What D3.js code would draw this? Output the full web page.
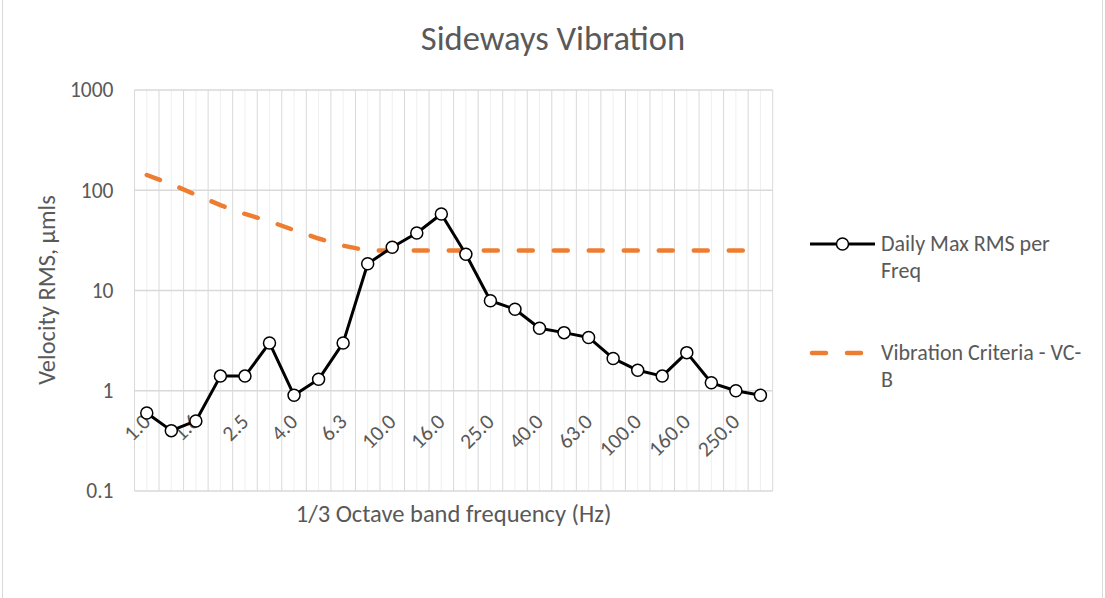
<!DOCTYPE html>
<html>
<head>
<meta charset="utf-8">
<script src="https://cdn.jsdelivr.net/npm/d3@7"></script>
<style>
  body { margin: 0; background: #fff; }
  svg text { font-family: Carlito, Calibri, Lato, sans-serif; fill: #595959; }
</style>
</head>
<body>
<script>
// 1/3 octave bands and readings
var bands = ["1.0","1.3","1.6","2.0","2.5","3.2","4.0","5.0","6.3","8.0","10.0","12.5","16.0",
             "20.0","25.0","31.5","40.0","50.0","63.0","80.0","100.0","125.0","160.0","200.0","250.0","315.0"];
var dailyMaxRms = [0.6,0.4,0.5,1.4,1.4,3.0,0.9,1.3,3.0,18.5,27,37.5,58,
                   23,7.9,6.5,4.2,3.8,3.4,2.1,1.6,1.4,2.4,1.2,1.0,0.9];
var vcB = [142,115,90,71,58,49,40,33,28,25,25,25,25,
           25,25,25,25,25,25,25,25,25,25,25,25,25];
var yTicks = [0.1, 1, 10, 100, 1000];

var width = 1105, height = 598;
var plotLeft = 134.5, plotRight = 772.7, plotTop = 90, plotBottom = 491;

var svg = d3.select("body").append("svg")
    .attr("width", width)
    .attr("height", height);

// chart border
svg.append("rect")
    .attr("x", 2.5).attr("y", -2)
    .attr("width", 1100).attr("height", 610)
    .attr("fill", "none")
    .attr("stroke", "#d9d9d9");

var x = d3.scaleBand().domain(bands).range([plotLeft, plotRight]).paddingInner(0).paddingOuter(0);
var y = d3.scaleLog().domain([0.1, 1000]).range([plotBottom, plotTop]);
var cx = function(d) { return x(d) + x.bandwidth() / 2; };

// minor vertical grid (band centres)
svg.append("g").selectAll("line")
    .data(bands)
    .enter().append("line")
    .attr("x1", cx).attr("x2", cx)
    .attr("y1", plotTop).attr("y2", plotBottom)
    .attr("stroke", "#efefef")
    .attr("stroke-width", 1);

// major vertical grid (band edges)
var edges = bands.map(function(d) { return x(d); }).concat([plotRight]);
svg.append("g").selectAll("line")
    .data(edges)
    .enter().append("line")
    .attr("x1", function(d) { return d; }).attr("x2", function(d) { return d; })
    .attr("y1", plotTop).attr("y2", plotBottom)
    .attr("stroke", "#d9d9d9")
    .attr("stroke-width", 1);

// horizontal grid
svg.append("g").selectAll("line")
    .data(yTicks)
    .enter().append("line")
    .attr("x1", plotLeft).attr("x2", plotRight)
    .attr("y1", function(d) { return y(d); })
    .attr("y2", function(d) { return y(d); })
    .attr("stroke", "#d9d9d9")
    .attr("stroke-width", 1.3);

// y axis labels
var yAxis = d3.axisLeft(y).tickValues(yTicks).tickSize(0).tickPadding(21)
    .tickFormat(function(d) { return String(d); });
var gy = svg.append("g").attr("transform", "translate(" + plotLeft + ",0)").call(yAxis);
gy.select(".domain").remove();
gy.selectAll("text")
    .style("font-size", "21.5px")
    .attr("fill", "#595959");

// x axis labels, every other band, rotated
var xAxis = d3.axisBottom(x)
    .tickValues(bands.filter(function(d, i) { return i % 2 === 0; }))
    .tickSize(0);
var gx = svg.append("g").attr("transform", "translate(0," + plotBottom + ")").call(xAxis);
gx.select(".domain").remove();
gx.selectAll("text")
    .style("font-size", "21.5px")
    .attr("fill", "#595959")
    .attr("text-anchor", "end")
    .attr("dy", null)
    .attr("y", null)
    .attr("transform", "translate(5,-68) rotate(-45)");

// criteria line
var line = d3.line()
    .x(function(d, i) { return cx(bands[i]); })
    .y(function(d) { return y(d); });

svg.append("path")
    .datum(vcB)
    .attr("d", line)
    .attr("fill", "none")
    .attr("stroke", "#ED7D31")
    .attr("stroke-width", 4.5)
    .attr("stroke-linecap", "round")
    .attr("stroke-dasharray", "14,21");

// measured line
svg.append("path")
    .datum(dailyMaxRms)
    .attr("d", line)
    .attr("fill", "none")
    .attr("stroke", "#000")
    .attr("stroke-width", 3)
    .attr("stroke-linejoin", "round");

svg.append("g").selectAll("circle")
    .data(dailyMaxRms)
    .enter().append("circle")
    .attr("cx", function(d, i) { return cx(bands[i]); })
    .attr("cy", function(d) { return y(d); })
    .attr("r", 6)
    .attr("fill", "#fff")
    .attr("stroke", "#000")
    .attr("stroke-width", 1.5);

// titles
svg.append("text")
    .attr("x", 553).attr("y", 50)
    .attr("text-anchor", "middle")
    .style("font-size", "34.5px")
    .text("Sideways Vibration");

svg.append("text")
    .attr("x", (plotLeft + plotRight) / 2).attr("y", 522)
    .attr("text-anchor", "middle")
    .style("font-size", "24.5px")
    .text("1/3 Octave band frequency (Hz)");

svg.append("text")
    .attr("transform", "translate(55,290) rotate(-90)")
    .attr("text-anchor", "middle")
    .style("font-size", "24.5px")
    .text("Velocity RMS, μmls");

// legend
var legend = svg.append("g");
legend.append("line")
    .attr("x1", 810).attr("x2", 875).attr("y1", 244).attr("y2", 244)
    .attr("stroke", "#000").attr("stroke-width", 3);
legend.append("circle")
    .attr("cx", 842.5).attr("cy", 244).attr("r", 6)
    .attr("fill", "#fff").attr("stroke", "#000").attr("stroke-width", 1.5);
legend.append("text").attr("x", 881).attr("y", 251).style("font-size", "22px").text("Daily Max RMS per");
legend.append("text").attr("x", 881).attr("y", 278).style("font-size", "22px").text("Freq");

legend.append("line")
    .attr("x1", 812).attr("x2", 864).attr("y1", 353).attr("y2", 353)
    .attr("stroke", "#ED7D31").attr("stroke-width", 4.5)
    .attr("stroke-linecap", "round")
    .attr("stroke-dasharray", "14,21");
legend.append("text").attr("x", 881).attr("y", 360).style("font-size", "22px").text("Vibration Criteria - VC-");
legend.append("text").attr("x", 881).attr("y", 387).style("font-size", "22px").text("B");
</script>
</body>
</html>
